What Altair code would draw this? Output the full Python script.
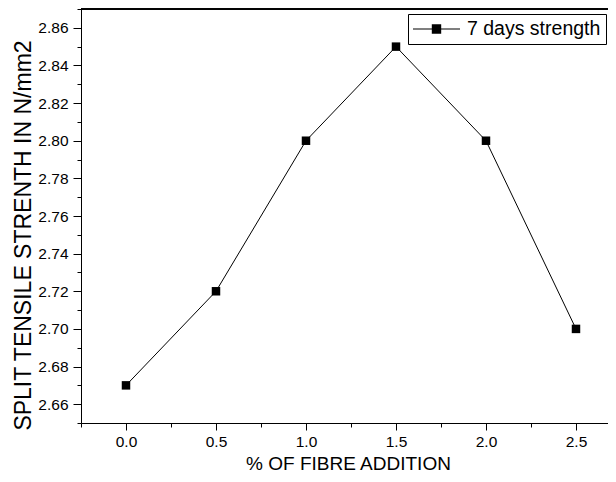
import altair as alt
import pandas as pd

fibre = [0.0, 0.5, 1.0, 1.5, 2.0, 2.5]
strength = [2.67, 2.72, 2.80, 2.85, 2.80, 2.70]
series_name = "7 days strength"

x_ticks = [-0.25, 0.0, 0.25, 0.5, 0.75, 1.0, 1.25, 1.5, 1.75, 2.0, 2.25, 2.5]
y_ticks = [2.65, 2.66, 2.67, 2.68, 2.69, 2.70, 2.71, 2.72, 2.73, 2.74, 2.75, 2.76,
           2.77, 2.78, 2.79, 2.80, 2.81, 2.82, 2.83, 2.84, 2.85, 2.86, 2.87]

df = pd.DataFrame({"x": fibre, "y": strength, "series": [series_name] * len(fibre)})

FONT = "Liberation Sans"
PLOT_W = 527
PLOT_H = 414
x_major = "abs(datum.value*2 - round(datum.value*2)) < 0.001"
y_major = "abs(datum.value*50 - round(datum.value*50)) < 0.001"

x_enc = alt.X(
    "x:Q",
    scale=alt.Scale(domain=[-0.25, 2.6778], nice=False, zero=False),
    axis=alt.Axis(
        title="% OF FIBRE ADDITION",
        values=x_ticks,
        tickCount=60,
        labelExpr=f"{x_major} ? format(datum.value, '.1f') : ''",
        tickSize={"condition": {"test": x_major, "value": 7}, "value": 4},
        labelFontSize=15.5,
        labelPadding=4,
        titleFontSize=19,
        titleFontWeight="normal",
        titleX=267,
        titleY=40,
        titleAlign="center",
        titleBaseline="middle",
        grid=False,
        domainColor="black",
        tickColor="black",
        labelColor="black",
        titleColor="black",
        labelOverlap=False,
        labelFlush=False,
    ),
)
y_enc = alt.Y(
    "y:Q",
    scale=alt.Scale(domain=[2.65, 2.87], nice=False, zero=False),
    axis=alt.Axis(
        title="SPLIT TENSILE STRENTH IN N/mm2",
        values=y_ticks,
        tickCount=60,
        labelExpr=f"{y_major} ? format(datum.value, '.2f') : ''",
        tickSize={"condition": {"test": y_major, "value": 8}, "value": 4},
        labelFontSize=15.5,
        labelPadding=5,
        titleFontSize=23,
        titleFontWeight="normal",
        titleX=-58,
        titleY=226,
        titleAngle=270,
        titleAlign="center",
        titleBaseline="middle",
        grid=False,
        domainColor="black",
        tickColor="black",
        labelColor="black",
        titleColor="black",
        labelOverlap=False,
        labelFlush=False,
    ),
)

legend_symbol = ("M-1,-0.025H1V0.025H-1Z "
                 "M-0.2,-0.2H0.2V0.2H-0.2Z")

line = alt.Chart(df).mark_line(color="black", strokeWidth=1).encode(x=x_enc, y=y_enc)
points = alt.Chart(df).mark_point(shape="square", filled=True, size=72, opacity=1).encode(
    x="x:Q",
    y="y:Q",
    color=alt.Color(
        "series:N",
        scale=alt.Scale(domain=[series_name], range=["black"]),
        legend=alt.Legend(
            title=None,
            orient="none",
            legendX=327,
            legendY=5,
            symbolType=legend_symbol,
            symbolSize=2209,
            symbolStrokeWidth=0,
            symbolFillColor="black",
            clipHeight=20,
            labelFontSize=19.5,
            labelFont=FONT,
            labelColor="black",
            labelOffset=7,
            strokeColor="black",
            fillColor="white",
            padding=5,
        ),
    ),
)

top_frame = alt.Chart(df).mark_rule(color="black", strokeWidth=1).encode(
    x=alt.value(0), x2=alt.value(PLOT_W), y=alt.value(0)
)

chart = (
    alt.layer(line, points, top_frame)
    .properties(
        width=PLOT_W,
        height=PLOT_H,
        padding={"left": 73, "top": 1, "right": 0, "bottom": 51},
        autosize=alt.AutoSizeParams(type="none"),
        background="white",
    )
    .configure(font=FONT)
    .configure_view(stroke=None)
    .configure_axis(domainWidth=1, tickWidth=1)
)

chart.save("out.html", embed_options={"renderer": "svg", "actions": False})
